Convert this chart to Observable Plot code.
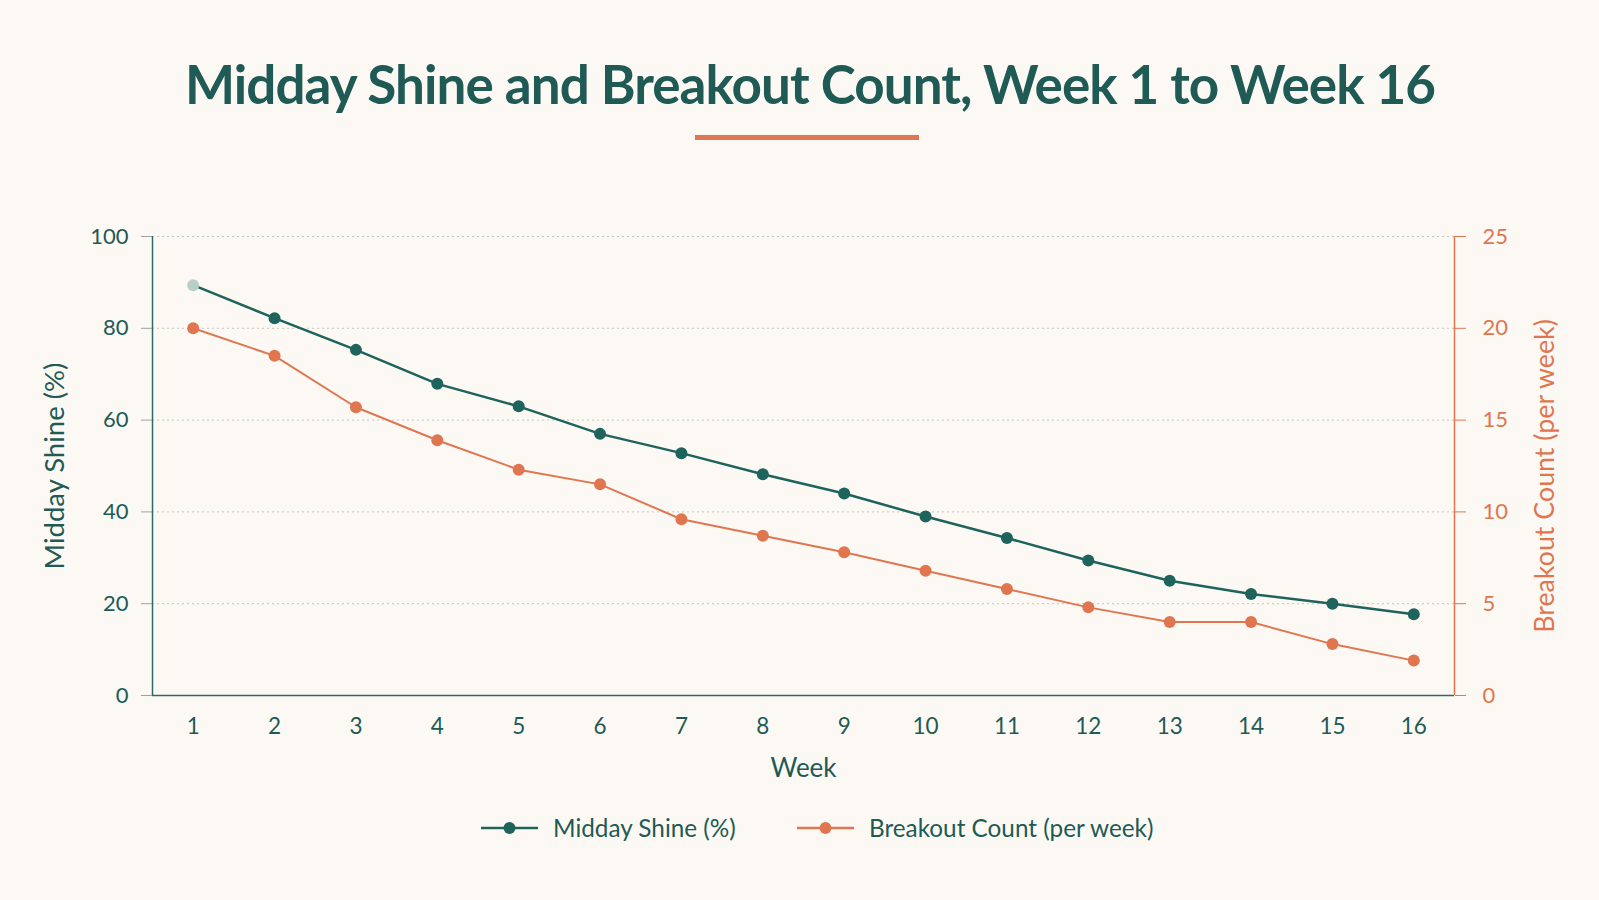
<!DOCTYPE html>
<html>
<head>
<meta charset="utf-8">
<script src="https://cdn.jsdelivr.net/npm/d3@7"></script>
<script src="https://cdn.jsdelivr.net/npm/@observablehq/plot@0.6"></script>
<style>
html, body { margin: 0; padding: 0; background: #fcf9f4; }
body { width: 1599px; height: 900px; overflow: hidden; font-family: Lato, "Noto Sans", sans-serif; }
#head { position: relative; width: 1599px; height: 170px; }
#title { position: absolute; left: 0; top: 57px; width: 1599px; margin: 0;
  font-size: 53px; line-height: 1; font-weight: 700; color: #1f5a55; white-space: nowrap; }
#title span { position: absolute; left: 0; top: 0; display: inline-block; }
#underline { position: absolute; left: 695px; top: 135px; width: 224px; height: 5px; background: #e07650; }
#chart { width: 1599px; height: 620px; }
#legend { position: relative; width: 1599px; height: 110px; }
.item { position: absolute; top: 24px; height: 28px; display: flex; align-items: center; }
.item svg { display: block; }
.item span { font-size: 24.3px; color: #1f5a55; margin-left: 15px; line-height: 28px; }
</style>
</head>
<body>
<div id="head">
  <h1 id="title"><span id="titletext">Midday Shine and Breakout Count, Week 1 to Week 16</span></h1>
  <div id="underline"></div>
</div>
<div id="chart"></div>
<div id="legend"></div>
<script>
// ---- data ----
const weeks = [1, 2, 3, 4, 5, 6, 7, 8, 9, 10, 11, 12, 13, 14, 15, 16];
const shine = [89.4, 82.2, 75.3, 67.9, 63.0, 57.0, 52.8, 48.2, 44.0, 39.0, 34.3, 29.4, 25.0, 22.1, 20.0, 17.7];
const breakouts = [20.0, 18.5, 15.7, 13.9, 12.3, 11.5, 9.6, 8.7, 7.8, 6.8, 5.8, 4.8, 4.0, 4.0, 2.8, 1.9];
const leftTicks = [0, 20, 40, 60, 80, 100];
const rightTicks = [0, 5, 10, 15, 20, 25];
const seriesNames = ["Midday Shine (%)", "Breakout Count (per week)"];

// ---- styles ----
const teal = "#1f635d";
const tealText = "#1f5a55";
const orange = "#e07650";
const firstDot = "#b8cfc8";
const ratio = 100 / 25; // right axis -> left axis units

const shineData = weeks.map((w, i) => ({week: w, value: shine[i], first: i === 0}));
const breakData = weeks.map((w, i) => ({week: w, value: breakouts[i] * ratio}));

const chart = Plot.plot({
  width: 1599,
  height: 620,
  marginTop: 66,
  marginBottom: 95,
  marginLeft: 152,
  marginRight: 145,
  style: {background: "transparent", fontFamily: "Lato, 'Noto Sans', sans-serif", overflow: "visible"},
  x: {domain: [0.5, 16.5], axis: null},
  y: {domain: [0, 100], axis: null},
  color: {type: "identity"},
  marks: [
    Plot.gridY(leftTicks.filter(d => d > 0), {stroke: "#cbc6bd", strokeOpacity: 1, strokeDasharray: "2,3"}),
    Plot.axisY(leftTicks, {anchor: "left", tickSize: 11, tickPadding: 13, stroke: "#9aa5a2", fill: tealText, fontSize: 22, label: null}),
    Plot.axisY(rightTicks.map(d => d * ratio), {anchor: "right", tickSize: 11, tickPadding: 17, stroke: orange, fill: orange, fontSize: 22, label: null, tickFormat: d => d / ratio}),
    Plot.axisX(weeks, {anchor: "bottom", tickSize: 0, tickPadding: 23, fill: tealText, fontSize: 22.5, label: null}),
    Plot.ruleX([0.5], {stroke: "#2d6b66", strokeWidth: 1.5}),
    Plot.ruleX([16.5], {stroke: orange, strokeWidth: 1.5}),
    Plot.ruleY([0], {stroke: "#2d6b66", strokeWidth: 1.5}),
    Plot.line(breakData, {x: "week", y: "value", stroke: orange, strokeWidth: 2}),
    Plot.dot(breakData, {x: "week", y: "value", r: 6, fill: orange, stroke: "none"}),
    Plot.line(shineData, {x: "week", y: "value", stroke: teal, strokeWidth: 2.5}),
    Plot.dot(shineData, {x: "week", y: "value", r: 6, fill: d => d.first ? firstDot : teal, stroke: "none"}),
    Plot.text([seriesNames[0]], {text: d => d, frameAnchor: "left", textAnchor: "middle", rotate: -90, dx: -97, fontSize: 27.5, fill: tealText}),
    Plot.text([seriesNames[1]], {text: d => d, frameAnchor: "right", textAnchor: "middle", rotate: -90, dx: 91, dy: 10, fontSize: 26.8, fill: orange}),
    Plot.text(["Week"], {text: d => d, frameAnchor: "bottom", dy: 81, fontSize: 26, fill: tealText})
  ]
});
document.getElementById("chart").appendChild(chart);

// ---- fit title: left edge 185, right edge 1436 ----
const tt = document.getElementById("titletext");
const targetL = 185, targetW = 1251;
const txt = tt.textContent;
const w0 = tt.getBoundingClientRect().width;
const ls = (targetW - w0) / (txt.length - 1);
tt.style.letterSpacing = ls + "px";
tt.style.left = targetL + "px";

// ---- legend ----
const legend = document.getElementById("legend");
const items = [
  {name: seriesNames[0], color: teal, left: 481},
  {name: seriesNames[1], color: orange, left: 797}
];
items.forEach(it => {
  const div = document.createElement("div");
  div.className = "item";
  div.style.left = it.left + "px";
  div.innerHTML = `<svg width="57" height="28"><line x1="0" y1="14" x2="57" y2="14" stroke="${it.color}" stroke-width="2.5"/><circle cx="28.5" cy="14" r="6" fill="${it.color}"/></svg><span>${it.name}</span>`;
  legend.appendChild(div);
});
</script>
</body>
</html>
